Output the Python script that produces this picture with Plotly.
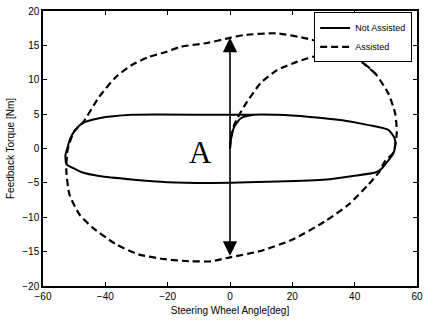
import plotly.graph_objects as go

# Steering wheel angle [deg] vs feedback torque [Nm]
not_assisted_angle = [0, 0.4, 1.3, 3.5, 7.6, 15.1, 25.6, 36.0, 44.5, 50.8, 52.8, 53.0, 52.3, 50.5,
                      48.5, 46.6, 39.3, 30.8, 15.1, -6.0, -20.0, -31.6, -42.0, -47.3, -50.5,
                      -52.5, -52.8, -52.1, -51.3, -49.8, -47.3, -42.0, -31.5, -6.2, 0, 7.6]
not_assisted_torque = [0, 1.5, 3.1, 4.4, 4.9, 4.9, 4.6, 4.1, 3.4, 2.7, 1.5, 0.3, -0.8, -1.9,
                       -3.0, -3.5, -4.0, -4.5, -4.8, -5.0, -4.9, -4.5, -4.0, -3.5, -2.8,
                       -2.3, -1.0, 0.2, 1.4, 2.6, 3.7, 4.4, 4.9, 4.9, 4.9, 4.9]

assisted_angle = [0, 0.3, 1.5, 4.5, 9.8, 15.1, 21.4, 28.7, 33.0, 36.1, 41.4, 46.6, 50.8, 53.0,
                  53.5, 52.4, 49.8, 47.7, 44.5, 38.2, 30.8, 20.3, 9.8, -0.7, -6.0, -13.0,
                  -20.9, -29.4, -36.7, -44.1, -48.3, -51.5, -52.5, -52.1, -50.0, -47.3,
                  -42.0, -36.6, -31.6, -26.2, -20.8, -15.8, -7.3, 0.0, 4.5, 15.1, 25.6,
                  34.0, 41.4, 46.6]
assisted_torque = [0, 1.7, 3.6, 6.1, 9.5, 11.4, 12.6, 13.6, 13.8, 13.6, 12.9, 10.9, 8.0, 5.1,
                   2.2, -0.6, -1.8, -3.5, -5.2, -8.1, -10.5, -13.2, -14.9, -15.9, -16.4, -16.4,
                   -16.1, -15.4, -13.9, -11.5, -9.6, -6.7, -3.3, -0.2, 2.5, 3.7,
                   7.5, 10.4, 12.1, 13.3, 14.0, 14.8, 15.35, 16.1, 16.5, 16.75, 15.9,
                   14.8, 12.9, 10.9]

x_ticks = [-60, -40, -20, 0, 20, 40, 60]
y_ticks = [-20, -15, -10, -5, 0, 5, 10, 15, 20]

# Span of the torque difference marked "A"
arrow_angle = 0
arrow_low = -15.8
arrow_high = 16.1

font = "Liberation Sans, Arial, sans-serif"

fig = go.Figure()
fig.add_trace(go.Scatter(
    x=not_assisted_angle, y=not_assisted_torque, mode="lines", name="Not Assisted",
    line=dict(color="black", width=2, shape="spline", smoothing=0.6)))
fig.add_trace(go.Scatter(
    x=assisted_angle, y=assisted_torque, mode="lines", name="Assisted",
    line=dict(color="black", width=2.2, dash="7px,4px", shape="spline", smoothing=0.6)))

# Double-headed arrow
fig.add_annotation(x=arrow_angle, y=arrow_high, ax=arrow_angle, ay=arrow_low,
                   xref="x", yref="y", axref="x", ayref="y", text="",
                   showarrow=True, arrowhead=2, startarrowhead=2, arrowside="end+start",
                   arrowwidth=1.6, arrowsize=1.8, startarrowsize=1.8, arrowcolor="black")
fig.add_annotation(x=-9.5, y=-0.6, xref="x", yref="y", text="A", showarrow=False,
                   font=dict(family="Liberation Serif, Times New Roman, serif", size=31,
                             color="black"))

axis_common = dict(showline=True, linecolor="black", linewidth=1.5, mirror="allticks",
                   ticks="inside", ticklen=4, tickcolor="black", showgrid=False,
                   zeroline=False, tickfont=dict(family=font, size=10, color="black"))

fig.update_xaxes(range=[-60, 60], tickvals=x_ticks,
                 title=dict(text="Steering Wheel Angle[deg]", standoff=6,
                            font=dict(family=font, size=10, color="black")),
                 **axis_common)
fig.update_yaxes(range=[-20, 20], tickvals=y_ticks,
                 title=dict(text="Feedback Torque [Nm]", standoff=6,
                            font=dict(family=font, size=10, color="black")),
                 **axis_common)

fig.update_layout(
    width=428, height=322, margin=dict(l=43, r=5, t=11, b=36),
    plot_bgcolor="white", paper_bgcolor="white",
    legend=dict(x=0.987, y=0.995, xanchor="right", yanchor="top",
                bgcolor="white", bordercolor="black", borderwidth=1,
                font=dict(family=font, size=9, color="black"),
                tracegroupgap=0, itemwidth=30),
    showlegend=True,
)

fig.write_html("out.html")
